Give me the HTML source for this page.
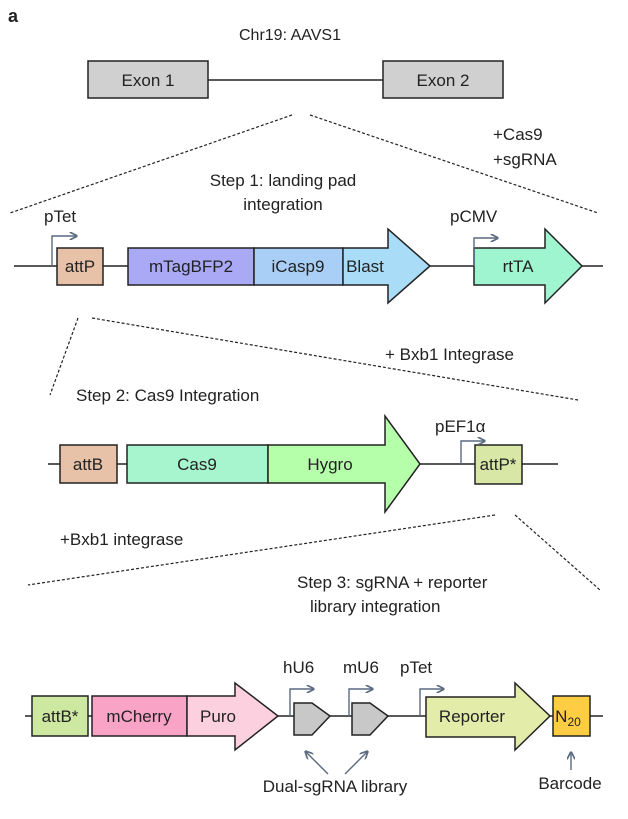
<!DOCTYPE html>
<html><head><meta charset="utf-8"><style>body{margin:0;background:#fff}svg{display:block}text{font-family:"Liberation Sans",sans-serif;fill:#222}</style></head>
<body>
<svg width="628" height="819" viewBox="0 0 628 819" xmlns="http://www.w3.org/2000/svg">
<defs><marker id="ah" viewBox="0 0 10 10" refX="8" refY="5" markerWidth="6" markerHeight="6" orient="auto"><path d="M0,0 L10,5 L0,10" fill="none" stroke="#5a6a80" stroke-width="2"/></marker></defs>
<g stroke="#222" stroke-width="1.5">
<text x="8" y="22" font-size="18" font-weight="bold" stroke="none">a</text>
<text x="290" y="40" font-size="16" text-anchor="middle" stroke="none">Chr19: AAVS1</text>
<line x1="208" y1="80" x2="383" y2="80"/>
<rect x="88" y="61" width="120" height="37" fill="#d0d0d0"/>
<rect x="383" y="61" width="120" height="37" fill="#d0d0d0"/>
<text x="148" y="86" font-size="17" text-anchor="middle" stroke="none">Exon 1</text>
<text x="443" y="86" font-size="17" text-anchor="middle" stroke="none">Exon 2</text>
<g stroke-dasharray="3,2" stroke-width="1.2">
<line x1="292" y1="115" x2="10" y2="213"/><line x1="310" y1="115" x2="598" y2="213"/>
<line x1="78" y1="318" x2="50" y2="395"/><line x1="92" y1="318" x2="578" y2="400"/>
<line x1="495" y1="515" x2="28" y2="585"/><line x1="515" y1="515" x2="600" y2="590"/>
</g>
<g font-size="17" stroke="none">
<text x="493" y="140" stroke="none">+Cas9</text><text x="493" y="165" stroke="none">+sgRNA</text>
<text x="283" y="186" text-anchor="middle" stroke="none">Step 1: landing pad</text>
<text x="283" y="210" text-anchor="middle" stroke="none">integration</text>
<text x="385" y="360" stroke="none">+ Bxb1 Integrase</text>
<text x="76" y="401" stroke="none">Step 2: Cas9 Integration</text>
<text x="60" y="545" stroke="none">+Bxb1 integrase</text>
<text x="297" y="588" stroke="none">Step 3: sgRNA + reporter</text>
<text x="310" y="612" stroke="none">library integration</text>
<text x="44" y="222" stroke="none">pTet</text>
<text x="450" y="222" stroke="none">pCMV</text>
<text x="435" y="432" stroke="none">pEF1α</text>
<text x="283" y="673" stroke="none">hU6</text>
<text x="343" y="673" stroke="none">mU6</text>
<text x="400" y="673" stroke="none">pTet</text>
<text x="335" y="792" text-anchor="middle" stroke="none">Dual-sgRNA library</text>
<text x="570" y="789" text-anchor="middle" stroke="none">Barcode</text>
</g>
<!-- row 1 -->
<line x1="14" y1="266" x2="603" y2="266"/>
<rect x="57" y="248" width="46" height="37" fill="#e8c2a8"/>
<rect x="128" y="248" width="126" height="37" fill="#a9a9f5"/>
<rect x="254" y="248" width="89" height="37" fill="#a9cff7"/>
<path d="M343,248 H388 V229 L430,266 L388,303 V285 H343 Z" fill="#a8dcf7"/>
<path d="M474,248 H545 V229 L582,266 L545,303 V285 H474 Z" fill="#9ef5cf"/>
<!-- row 2 -->
<line x1="48" y1="464" x2="558" y2="464"/>
<rect x="60" y="445" width="57" height="38" fill="#e8c2a8"/>
<rect x="127" y="445" width="141" height="38" fill="#a6f5ce"/>
<path d="M268,445 H385 V416 L420,464 L385,512 V483 H268 Z" fill="#b6ffaa"/>
<rect x="475" y="445" width="47" height="39" fill="#d8e6a6"/>
<!-- row 3 -->
<line x1="25" y1="716" x2="603" y2="716"/>
<rect x="32" y="696" width="56" height="40" fill="#cde8a0"/>
<rect x="92" y="696" width="95" height="40" fill="#f9a4c6"/>
<path d="M187,696 H235 V683 L278,716 L235,750 V736 H187 Z" fill="#fdd0e0"/>
<path d="M294,703 H312 L330,716 L312,735 H294 Z" fill="#c8c8c8"/>
<path d="M352,703 H370 L388,716 L370,735 H352 Z" fill="#c8c8c8"/>
<path d="M426,697 H515 V683 L550,716 L515,750 V737 H426 Z" fill="#e4ecaa"/>
<rect x="553" y="696" width="37" height="40" fill="#ffcd44"/>
</g>
<g font-size="17" text-anchor="middle">
<text x="80" y="272">attP</text><text x="191" y="272">mTagBFP2</text><text x="298" y="272">iCasp9</text><text x="365" y="272">Blast</text><text x="518" y="272">rtTA</text>
<text x="88" y="470">attB</text><text x="197" y="470">Cas9</text><text x="330" y="470">Hygro</text><text x="498" y="470">attP*</text>
<text x="60" y="722">attB*</text><text x="139" y="722">mCherry</text><text x="218" y="722">Puro</text><text x="472" y="722">Reporter</text>
<text x="568" y="722">N<tspan font-size="12" dy="4">20</tspan></text>
</g>
<g stroke="#5a6a80" stroke-width="1.4" fill="none" marker-end="url(#ah)">
<path d="M52,266 V236 H76"/><path d="M474,266 V238 H497"/><path d="M461,464 V441 H484"/>
<path d="M290,716 V689 H313"/><path d="M349,716 V689 H372"/><path d="M420,716 V689 H443"/>
<path d="M328,774 L306,752"/><path d="M345,774 L367,752"/><path d="M571,770 V753"/>
</g>
</svg>
</body></html>
